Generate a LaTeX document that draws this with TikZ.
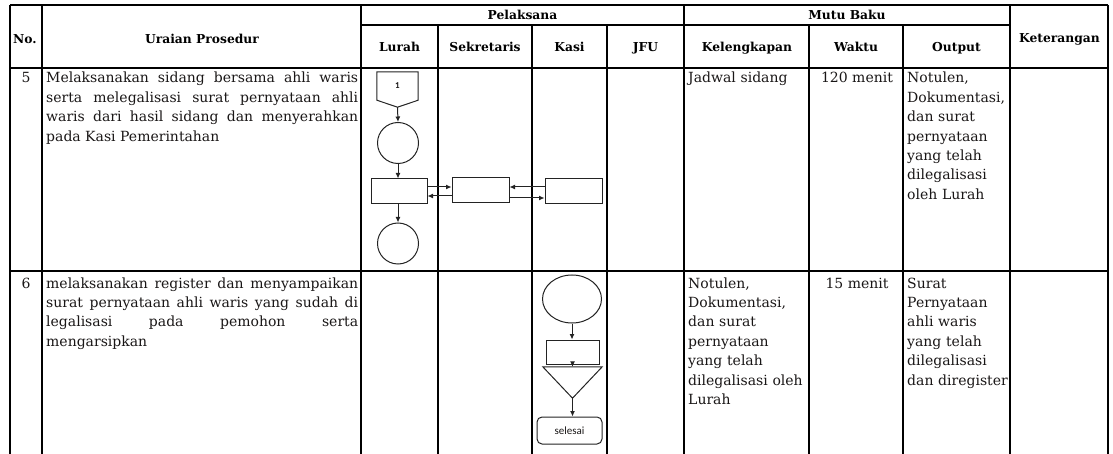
\documentclass[tikz,border=0pt]{standalone}
\usepackage{fontspec}
\setmainfont{DejaVu Serif}
\newfontfamily\flowfont{Carlito}
\usetikzlibrary{arrows.meta,shapes.geometric,calc}
\definecolor{txt}{RGB}{25,22,22}
\definecolor{fline}{RGB}{35,35,35}
\begin{document}
\begin{tikzpicture}[x=1pt,y=-1pt,
  grid/.style={line width=1.1pt, black},
  hdr/.style={font=\bfseries\fontsize{12.3}{14}\selectfont, inner sep=0, anchor=base},
  body/.style={font=\fontsize{14}{19.4}\selectfont, text=txt, inner sep=0, anchor=base west, text width=140pt, align=left},
  single/.style={font=\fontsize{14}{19.4}\selectfont, text=txt, inner sep=0, anchor=base},
  para/.style={font=\fontsize{14}{19.4}\selectfont, text=txt, inner sep=0, anchor=base west, text width=312pt, align=justify},
  fl/.style={line width=1pt, draw=fline},
  arr/.style={fl, -{Latex[length=5.5pt,width=5pt]}},
  proc/.style={fl, rectangle, inner sep=0},
  circ/.style={fl, circle, inner sep=0, minimum size=41pt},
]
\useasboundingbox (0,0) rectangle (1113,454);
% ---------- table grid ----------
\draw[grid] (10,5) -- (1108,5);
\draw[grid] (361,25) -- (1010,25);
\draw[grid] (10,68) -- (1108,68);
\draw[grid] (10,271) -- (1108,271);
\foreach \x in {10,42,361,684,1010,1108} \draw[grid] (\x,5) -- (\x,454);
\foreach \x in {438,532,607,809,903} \draw[grid] (\x,25) -- (\x,454);
% ---------- headers ----------
\node[hdr] (hno) at (25,44) {No.};
\node[hdr] (hur) at (202,44) {Uraian Prosedur};
\node[hdr] (hpel) at (522.5,20) {Pelaksana};
\node[hdr] (hmb) at (847,20) {Mutu Baku};
\node[hdr] (hket) at (1059.5,43) {Keterangan};
\node[hdr] (hlur) at (399.5,52) {Lurah};
\node[hdr] (hsek) at (485,52) {Sekretaris};
\node[hdr] (hkas) at (569.5,52) {Kasi};
\node[hdr] (hjfu) at (645.5,52) {JFU};
\node[hdr] (hkel) at (747,52) {Kelengkapan};
\node[hdr] (hwak) at (856,52) {Waktu};
\node[hdr] (hout) at (956.5,52) {Output};
% ---------- row 5 ----------
\node[single] (n5) at (26,83) {5};
\node[para] (u5) at (46,83) {Melaksanakan sidang bersama ahli waris\linebreak serta melegalisasi surat pernyataan ahli\linebreak waris dari hasil sidang dan menyerahkan\linebreak pada Kasi Pemerintahan};
\node[body] (k5) at (688,83) {Jadwal sidang};
\node[single] (w5) at (857,83) {120 menit};
\node[body] (o5) at (907,83) {Notulen,\\Dokumentasi,\\dan surat\\pernyataan\\yang telah\\dilegalisasi\\oleh Lurah};
% flow row 5
\node[inner sep=0, minimum width=41pt, minimum height=28pt, font=\flowfont\bfseries\fontsize{9}{10}\selectfont, text=txt] (c1) at (397.5,86) {1};
\coordinate (c1tip) at ($(c1.south)+(0,7)$);
\draw[fl] (c1.south west) -- (c1.north west) -- (c1.north east) -- (c1.south east) -- (c1tip) -- cycle;
\node[circ] (s1) at (398,143) {};
\node[proc, minimum width=56pt, minimum height=25pt] (lr) at (399,191.5) {};
\node[circ] (s2) at (398,243.5) {};
\node[proc, minimum width=57pt, minimum height=25pt] (sk) at (480.5,190.5) {};
\node[proc, minimum width=57pt, minimum height=25pt] (ks) at (573.5,191.5) {};
\draw[arr] (c1tip) -- (s1.north);
\draw[arr] (s1.south) -- (s1.south |- lr.north);
\draw[arr] (s2.north |- lr.south) -- (s2.north);
\draw[arr] (lr.east |- {(0,187)}) -- (sk.west |- {(0,187)});
\draw[arr] (sk.west |- {(0,196)}) -- (lr.east |- {(0,196)});
\draw[arr] (ks.west |- {(0,187)}) -- (sk.east |- {(0,187)});
\draw[arr] (sk.east |- {(0,198)}) -- (ks.west |- {(0,198)});
% ---------- row 6 ----------
\node[single] (n6) at (26,288) {6};
\node[para] (u6) at (46,288) {melaksanakan register dan menyampaikan\linebreak surat pernyataan ahli waris yang sudah di\linebreak legalisasi pada pemohon serta\linebreak mengarsipkan};
\node[body] (k6) at (688,288) {Notulen,\\Dokumentasi,\\dan surat\\pernyataan\\yang telah\\dilegalisasi oleh\\Lurah};
\node[single] (w6) at (857,288) {15 menit};
\node[body] (o6) at (907,288) {Surat\\Pernyataan\\ahli waris\\yang telah\\dilegalisasi\\dan diregister};
% flow row 6
\node[fl, ellipse, inner sep=0, minimum width=59pt, minimum height=48pt] (e6) at (572,299) {};
\node[proc, minimum width=53pt, minimum height=24pt] (r6) at (572.5,352) {};
\node[inner sep=0, minimum width=59pt, minimum height=31pt] (m6) at (572.5,382.5) {};
\draw[fl] (m6.north west) -- (m6.north east) -- (m6.south) -- cycle;
\node[fl, rectangle, rounded corners=5pt, inner sep=0, minimum width=65pt, minimum height=27pt, font=\flowfont\fontsize{11}{12}\selectfont, text=txt] (end) at (569.5,430.5) {selesai};
\draw[arr] (e6.south) -- (e6.south |- r6.north);
\draw[arr] (r6.south) -- (r6.south |- m6.north);
\draw[arr] (m6.south) -- (m6.south |- end.north);
\end{tikzpicture}
\end{document}
